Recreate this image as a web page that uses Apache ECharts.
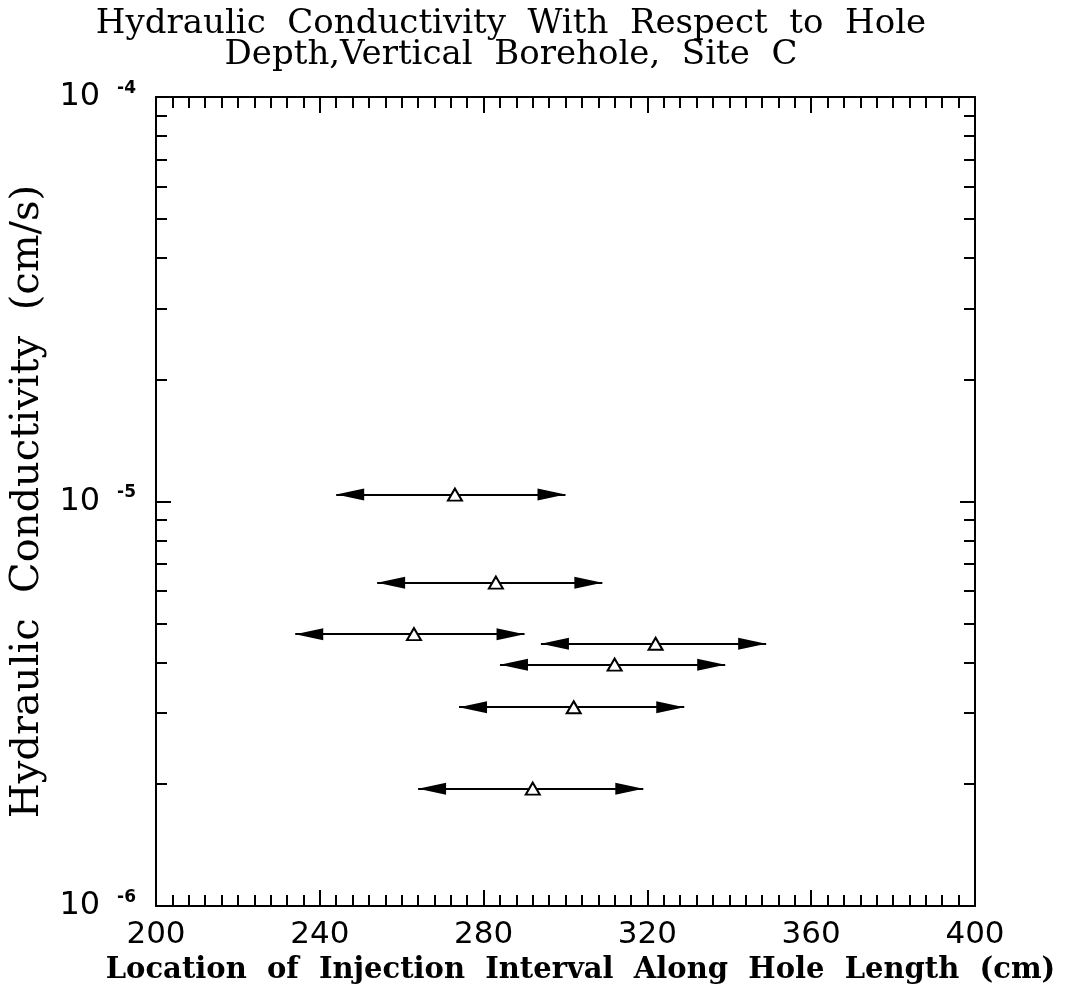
<!DOCTYPE html>
<html>
<head>
<meta charset="utf-8">
<script src="https://cdn.jsdelivr.net/npm/echarts@6/dist/echarts.min.js"></script>
<style>html,body{margin:0;padding:0;background:#fff;}#chart{width:1070px;height:990px;}</style>
</head>
<body>
<div id="chart"></div>
<script>
// Data
const xCenter = [273, 283, 263, 322, 312, 302, 292];
const xFrom = [244, 254, 234, 294, 284, 274, 264];
const xTo = [300, 309, 290, 349, 339, 329, 319];
const conductivity = [1.04e-5, 6.3e-6, 4.7e-6, 4.45e-6, 3.95e-6, 3.1e-6, 1.95e-6];
const yMajorTicks = [1e-6, 1e-5, 1e-4];
const yMinorTicks = [2e-6, 3e-6, 4e-6, 5e-6, 6e-6, 7e-6, 8e-6, 9e-6, 2e-5, 3e-5, 4e-5, 5e-5, 6e-5, 7e-5, 8e-5, 9e-5];
const xMin = 200, xMax = 400, xStep = 40;

const chart = echarts.init(document.getElementById('chart'), null, {renderer: 'canvas'});
const black = '#000';
// square-bounded arrowhead whose tip sits at the symbol centre
const arrowPath = 'path://M0,0 L0.01,0 Z M56,56 L55.99,56 Z M28,28 L34,56 L22,56 Z';

function xAxisCfg(pos, showLabel) {
  return {
    type: 'value', position: pos, min: xMin, max: xMax, interval: xStep,
    axisLine: {show: true, onZero: false, lineStyle: {color: black, width: 2}},
    axisTick: {show: true, inside: true, length: 16, lineStyle: {color: black, width: 2}},
    minorTick: {show: true, splitNumber: 10, length: 11, lineStyle: {color: black, width: 2}},
    axisLabel: {show: showLabel, margin: 13, color: black, fontFamily: 'DejaVu Sans', fontSize: 31},
    splitLine: {show: false},
    name: showLabel ? 'Location  of  Injection  Interval  Along  Hole  Length  (cm)' : '',
    nameLocation: 'middle', nameGap: 50,
    nameTextStyle: {color: black, fontFamily: 'DejaVu Serif', fontWeight: 'bold', fontSize: 29, padding: [0, 0, 0, 30]}
  };
}
function yAxisCfg(pos, major, showLabel) {
  return {
    type: 'log', logBase: 10, position: pos, min: 1e-6, max: 1e-4,
    axisLine: {show: major, onZero: false, lineStyle: {color: black, width: 2}},
    axisTick: {show: true, inside: true, length: major ? 15 : 11, customValues: major ? yMajorTicks : yMinorTicks,
      lineStyle: {color: black, width: 2}},
    axisLabel: {
      show: showLabel, margin: 20, customValues: yMajorTicks,
      formatter: function (v) { return '{b|10}{e|' + Math.round(Math.log10(v)) + '}'; },
      rich: {
        b: {fontFamily: 'DejaVu Sans', fontSize: 32, color: black, lineHeight: 34},
        e: {fontFamily: 'DejaVu Sans', fontSize: 17, fontWeight: 'bold', color: black, verticalAlign: 'top', lineHeight: 17, padding: [0, 0, 12, 17]}
      }
    },
    splitLine: {show: false},
    name: showLabel ? 'Hydraulic  Conductivity  (cm/s)' : '',
    nameLocation: 'middle', nameGap: 108, nameRotate: 90,
    nameTextStyle: {color: black, fontFamily: 'DejaVu Serif', fontSize: 40}
  };
}

const arrowData = conductivity.map((k, i) => ({coords: [[xFrom[i], k], [xTo[i], k]]}));
const pointData = conductivity.map((k, i) => [xCenter[i], k]);

chart.setOption({
  animation: false,
  backgroundColor: '#fff',
  title: {
    text: 'Hydraulic  Conductivity  With  Respect  to  Hole\nDepth,Vertical  Borehole,  Site  C',
    left: 506, top: 4, textAlign: 'center',
    textStyle: {fontFamily: 'DejaVu Serif', fontSize: 34, fontWeight: 'normal', color: black, lineHeight: 31}
  },
  grid: {left: 156, top: 97, width: 819, height: 811, containLabel: false},
  xAxis: [xAxisCfg('bottom', true), xAxisCfg('top', false)],
  yAxis: [yAxisCfg('left', true, true), yAxisCfg('left', false, false), yAxisCfg('right', true, false), yAxisCfg('right', false, false)],
  series: [
    {
      type: 'lines', coordinateSystem: 'cartesian2d', xAxisIndex: 0, yAxisIndex: 0,
      symbol: [arrowPath, arrowPath], symbolSize: 56,
      lineStyle: {color: black, width: 2, opacity: 1},
      itemStyle: {color: black},
      data: arrowData, silent: true
    },
    {
      type: 'scatter', xAxisIndex: 0, yAxisIndex: 0,
      symbol: 'triangle', symbolSize: [14, 12],
      itemStyle: {color: '#fff', borderColor: black, borderWidth: 2, opacity: 1},
      data: pointData, silent: true, z: 5
    }
  ]
});
</script>
</body>
</html>
